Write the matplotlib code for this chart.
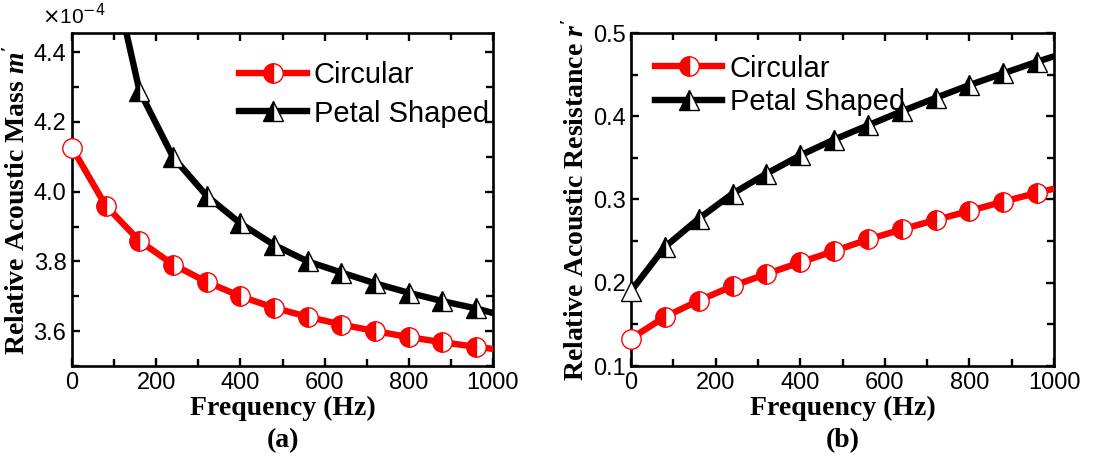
import matplotlib
matplotlib.use("Agg")
import matplotlib.pyplot as plt
from matplotlib.ticker import MultipleLocator, FormatStrFormatter

plt.rcParams['mathtext.fontset'] = 'custom'
plt.rcParams['mathtext.it'] = 'Liberation Serif:italic:bold'
plt.rcParams['mathtext.rm'] = 'Liberation Serif:bold'

# ---- data ----
freq = [0, 80, 160, 240, 320, 400, 480, 560, 640, 720, 800, 880, 960, 1000]
mass_circular = [4.126, 3.960, 3.859, 3.791, 3.741, 3.700, 3.667, 3.641,
                 3.619, 3.600, 3.583, 3.568, 3.555, 3.549]  # x1e-4
freq_petal_mass = [80, 160, 240, 320, 400, 480, 560, 640, 720, 800, 880, 960, 1000]
mass_petal = [4.72, 4.290, 4.099, 3.988, 3.909, 3.847, 3.800, 3.768,
              3.737, 3.710, 3.686, 3.665, 3.652]  # x1e-4
res_circular = [0.133, 0.159, 0.1785, 0.196, 0.2105, 0.2245, 0.238, 0.252,
                0.264, 0.2755, 0.2862, 0.2975, 0.308, 0.313]
res_petal = [0.190, 0.243, 0.277, 0.307, 0.331, 0.353, 0.372, 0.389,
             0.406, 0.422, 0.4375, 0.4515, 0.4655, 0.472]
labels = ['Circular', 'Petal Shaped']

fig = plt.figure(figsize=(11.17, 4.61), dpi=100)
axA = fig.add_axes([72/1117, 1-366/461, (493-72)/1117, (366-33)/461])
axB = fig.add_axes([631/1117, 1-366/461, (1054-631)/1117, (366-33)/461])

lw = 4.6
ms = 14

def style_axis(ax):
    for s in ax.spines.values():
        s.set_linewidth(1.9)
    ax.tick_params(which='both', direction='in', top=True, right=True, width=1.7)
    ax.tick_params(which='major', length=6, pad=4)
    ax.tick_params(which='minor', length=5)
    ax.xaxis.set_major_locator(MultipleLocator(200))
    ax.xaxis.set_minor_locator(MultipleLocator(100))
    ax.set_xlim(0, 1000)
    for lab in ax.get_xticklabels() + ax.get_yticklabels():
        lab.set_fontfamily('Liberation Sans')
        lab.set_fontsize(17)
    ax.set_xlabel('Frequency (Hz)', fontfamily='Liberation Serif', fontweight='bold',
                  fontsize=20, labelpad=2)

def plot_series(ax, x, y, color, marker, label, idx_half, idx_open):
    ax.plot(x, y, color=color, lw=lw, marker=marker, markersize=ms,
            markevery=idx_half, fillstyle='left', markerfacecolor=color,
            markerfacecoloralt='white', markeredgecolor=color, markeredgewidth=1.0,
            label=label, zorder=3)
    if idx_open is not None:
        ax.plot([x[idx_open]], [y[idx_open]], linestyle='none', marker=marker,
                markersize=ms, markerfacecolor='white', markeredgecolor=color,
                markeredgewidth=1.0, clip_on=False, zorder=4)

# Panel (a)
plot_series(axA, freq, mass_circular, 'red', 'o', labels[0], list(range(1, 13)), 0)
plot_series(axA, freq_petal_mass, mass_petal, 'black', '^', labels[1], list(range(1, 12)), None)
axA.set_ylim(3.5, 4.455)
axA.yaxis.set_major_locator(MultipleLocator(0.2))
axA.yaxis.set_minor_locator(MultipleLocator(0.1))
axA.yaxis.set_major_formatter(FormatStrFormatter('%.1f'))
style_axis(axA)
axA.set_ylabel("Relative Acoustic Mass $m'$", fontfamily='Liberation Serif',
               fontweight='bold', fontsize=20, labelpad=2)
axA.text(0.005, 1.015, r'$\times$10$^{-4}$', transform=axA.transAxes, ha='center', va='bottom',
         fontsize=15, fontfamily='Liberation Sans',
         math_fontfamily='dejavusans')
axA.legend(loc='upper left', bbox_to_anchor=(0.37, 0.95), frameon=False,
           prop=dict(family='Liberation Sans', size=21), handlelength=2.3,
           handletextpad=0.25, labelspacing=0.35, numpoints=1, borderaxespad=0)
fig.text((72+493)/2/1117, 1-441/461, '(a)', ha='center', va='center',
         fontfamily='Liberation Serif', fontweight='bold', fontsize=20)

# Panel (b)
plot_series(axB, freq, res_circular, 'red', 'o', labels[0], list(range(1, 13)), 0)
plot_series(axB, freq, res_petal, 'black', '^', labels[1], list(range(1, 13)), 0)
axB.set_ylim(0.1, 0.5)
axB.yaxis.set_major_locator(MultipleLocator(0.1))
axB.yaxis.set_minor_locator(MultipleLocator(0.05))
axB.yaxis.set_major_formatter(FormatStrFormatter('%.1f'))
style_axis(axB)
axB.set_ylabel("Relative Acoustic Resistance $r'$", fontfamily='Liberation Serif',
               fontweight='bold', fontsize=20, labelpad=2)
axB.legend(loc='upper left', bbox_to_anchor=(0.03, 0.97), frameon=False,
           prop=dict(family='Liberation Sans', size=21), handlelength=2.3,
           handletextpad=0.25, labelspacing=0.2, numpoints=1, borderaxespad=0)
fig.text((631+1054)/2/1117, 1-441/461, '(b)', ha='center', va='center',
         fontfamily='Liberation Serif', fontweight='bold', fontsize=20)

fig.savefig('out.png', dpi=100)
